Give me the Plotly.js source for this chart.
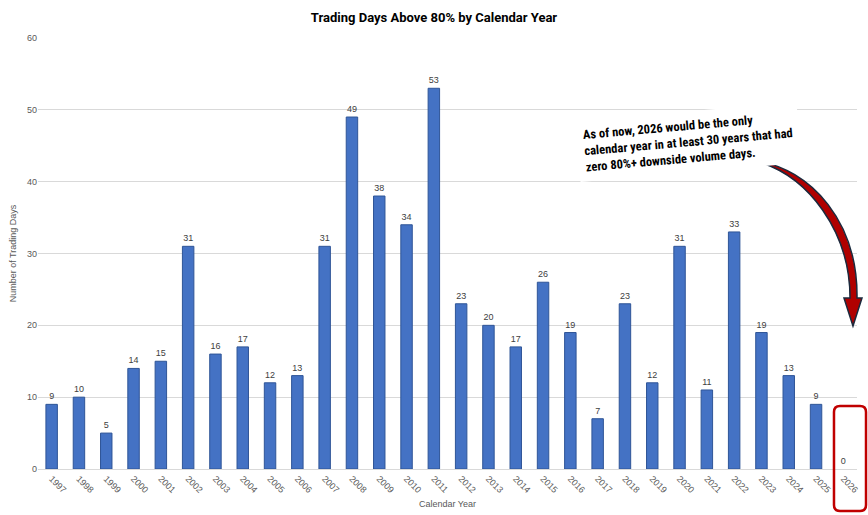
<!DOCTYPE html>
<html><head><meta charset="utf-8">
<script src="https://cdn.plot.ly/plotly-3.0.1.min.js"></script>
<style>html,body{margin:0;padding:0;background:#fff}#chart{width:868px;height:515px}</style>
</head><body><div id="chart"></div>
<script>
const years = ['1997','1998','1999','2000','2001','2002','2003','2004','2005','2006','2007','2008','2009','2010','2011','2012','2013','2014','2015','2016','2017','2018','2019','2020','2021','2022','2023','2024','2025','2026'];
const days = [9,10,5,14,15,31,16,17,12,13,31,49,38,34,53,23,20,17,26,19,7,23,12,31,11,33,19,13,9,0];
const titleText = 'Trading Days Above 80% by Calendar Year';
const xTitle = 'Calendar Year';
const yTitle = 'Number of Trading Days';
const noteText = 'As of now, 2026 would be the only<br>calendar year in at least 30 years that had<br>zero 80%+ downside volume days.';

const W = 868, H = 515, L = 38, R = 11, T = 38, B = 46;
const pw = W - L - R, ph = H - T - B;
function px(x){ return (x - L) / pw; }
function py(y){ return (H - B - y) / ph; }
function pt(x, y){ return px(x).toFixed(4) + ',' + py(y).toFixed(4); }

const arrowPath = 'M ' + pt(752,160) +
  ' C ' + pt(814,168) + ' ' + pt(858,225) + ' ' + pt(857,298) +
  ' L ' + pt(862,298) + ' L ' + pt(853,326) + ' L ' + pt(844,298) +
  ' L ' + pt(850,298) +
  ' C ' + pt(850,234) + ' ' + pt(810,174) + ' ' + pt(752,160) + ' Z';

const rx0 = 834, rx1 = 866, ry0 = 406, ry1 = 511, rr = 6;
const rectPath = 'M ' + pt(rx0+rr, ry0) + ' L ' + pt(rx1-rr, ry0) +
  ' Q ' + pt(rx1, ry0) + ' ' + pt(rx1, ry0+rr) +
  ' L ' + pt(rx1, ry1-rr) + ' Q ' + pt(rx1, ry1) + ' ' + pt(rx1-rr, ry1) +
  ' L ' + pt(rx0+rr, ry1) + ' Q ' + pt(rx0, ry1) + ' ' + pt(rx0, ry1-rr) +
  ' L ' + pt(rx0, ry0+rr) + ' Q ' + pt(rx0, ry0) + ' ' + pt(rx0+rr, ry0) + ' Z';

const trace = {
  type: 'bar', x: years, y: days,
  marker: {color: '#4472C4', line: {color: days.map(v => v === 0 ? 'rgba(0,0,0,0)' : '#2F5597'), width: 1}},
  text: days.map(String), textposition: 'outside', cliponaxis: false,
  textfont: {family: 'Liberation Sans, Arial, sans-serif', size: 9, color: '#404040'},
  hoverinfo: 'none'
};

const layout = {
  width: W, height: H,
  margin: {l: L, r: R, t: T, b: B},
  paper_bgcolor: '#fff', plot_bgcolor: '#fff',
  bargap: 0.58,
  showlegend: false,
  title: {text: '<b>' + titleText + '</b>', x: 0.5, xanchor: 'center', y: 0.967, yanchor: 'middle',
    font: {family: 'Liberation Sans Narrow, Roboto, sans-serif', size: 13, color: '#000'}},
  xaxis: {
    type: 'category', tickangle: 45, showgrid: false,
    showline: true, linecolor: '#d9d9d9', linewidth: 1, ticks: '',
    tickfont: {family: 'Liberation Sans, Arial, sans-serif', size: 9, color: '#595959'},
    title: {text: xTitle, standoff: 6, font: {family: 'Liberation Sans, Arial, sans-serif', size: 9, color: '#595959'}}
  },
  yaxis: {
    range: [0, 60], dtick: 10, showgrid: true, gridcolor: '#d9d9d9', gridwidth: 1,
    zeroline: false, showline: false, ticks: '',
    tickfont: {family: 'Liberation Sans, Arial, sans-serif', size: 9, color: '#595959'},
    title: {text: yTitle, standoff: 8, font: {family: 'Liberation Sans, Arial, sans-serif', size: 9, color: '#595959'}}
  },
  shapes: [
    {type: 'path', xref: 'paper', yref: 'paper', path: arrowPath,
      fillcolor: '#B00000', line: {color: '#1B2A3E', width: 1.5}},
    {type: 'path', xref: 'paper', yref: 'paper', path: rectPath,
      fillcolor: 'rgba(0,0,0,0)', line: {color: '#C00000', width: 2.5}}
  ],
  annotations: [
    {xref: 'paper', yref: 'paper', x: px(688), y: py(142), xanchor: 'center', yanchor: 'middle',
      text: '<b>' + noteText + '</b>',
      showarrow: false, textangle: -5, align: 'left', bgcolor: '#fff',
      borderpad: 6,
      font: {family: 'Liberation Sans Narrow, Roboto Condensed, Roboto, sans-serif', size: 12.5, color: '#000'}}
  ]
};

Plotly.newPlot('chart', [trace], layout, {displayModeBar: false, staticPlot: true});
</script>
</body></html>
